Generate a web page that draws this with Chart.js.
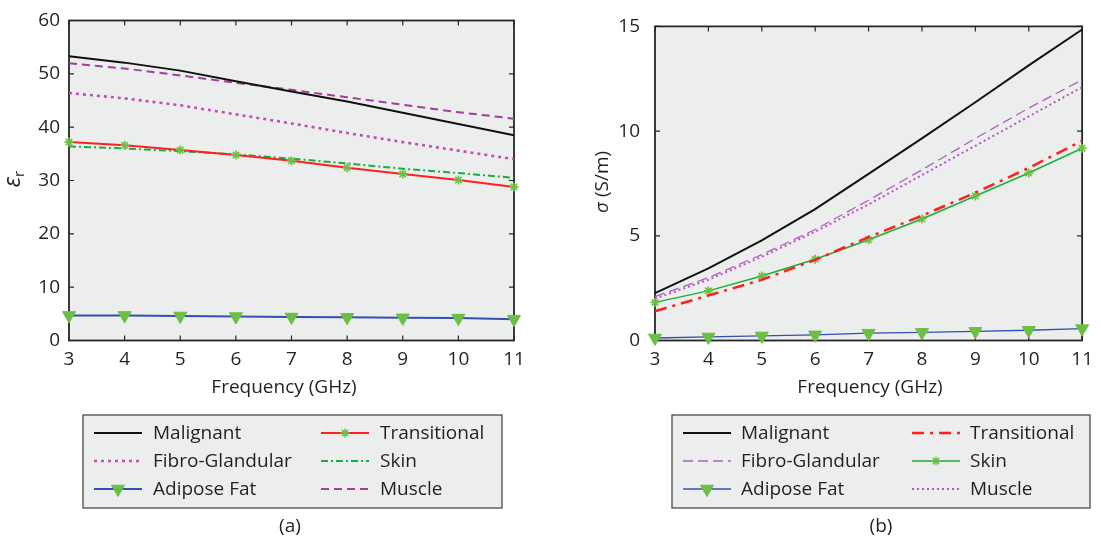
<!DOCTYPE html>
<html>
<head>
<meta charset="utf-8">
<title>Dielectric properties of breast tissues</title>
<script src="https://cdn.jsdelivr.net/npm/chart.js@4.4.1/dist/chart.umd.min.js"></script>
<style>
  html, body { margin: 0; padding: 0; background: #ffffff; }
  #wrap { position: relative; width: 1101px; height: 539px; overflow: hidden; }
  .panel { position: absolute; top: 0; }
  #pa { left: 0; }
  #pb { left: 550px; }
</style>
</head>
<body>
<div id="wrap">
  <div class="panel" id="pa"><canvas id="ca" width="550" height="539"></canvas></div>
  <div class="panel" id="pb"><canvas id="cb" width="551" height="539"></canvas></div>
</div>
<script>
// Frequency axis (GHz)
const freqGHz = [3, 4, 5, 6, 7, 8, 9, 10, 11];
const xTicks = [3, 4, 5, 6, 7, 8, 9, 10, 11];
const epsTicks = [0, 10, 20, 30, 40, 50, 60];
const sigmaTicks = [0, 5, 10, 15];

// (a) relative permittivity
const epsMalignant    = [53.3, 52.1, 50.6, 48.6, 46.7, 44.8, 42.7, 40.6, 38.5];
const epsFibro        = [46.4, 45.4, 44.1, 42.4, 40.7, 38.9, 37.2, 35.6, 34.0];
const epsAdipose      = [4.7, 4.7, 4.6, 4.5, 4.4, 4.35, 4.25, 4.2, 4.0];
const epsTransitional = [37.2, 36.6, 35.7, 34.8, 33.7, 32.4, 31.2, 30.1, 28.8];
const epsSkin         = [36.4, 36.0, 35.5, 34.9, 34.1, 33.2, 32.2, 31.4, 30.5];
const epsMuscle       = [52.0, 51.0, 49.7, 48.3, 47.0, 45.6, 44.2, 42.8, 41.6];

// (b) conductivity, S/m
const sigMalignant    = [2.26, 3.44, 4.78, 6.27, 7.96, 9.65, 11.38, 13.14, 14.85];
const sigFibro        = [2.1, 3.0, 4.1, 5.3, 6.7, 8.15, 9.65, 11.1, 12.45];
const sigAdipose      = [0.12, 0.17, 0.22, 0.27, 0.35, 0.39, 0.44, 0.49, 0.57];
const sigTransitional = [1.4, 2.15, 2.9, 3.85, 4.94, 5.96, 7.06, 8.24, 9.54];
const sigSkin         = [1.82, 2.37, 3.08, 3.88, 4.81, 5.8, 6.9, 8.0, 9.18];
const sigMuscle       = [2.0, 2.9, 4.0, 5.2, 6.5, 7.9, 9.3, 10.7, 12.1];

const FONT = "'Open Sans', 'Noto Sans', sans-serif";
const TEXT = '#231f20';
const MARKER_GREEN = '#6cbf45';

Chart.defaults.font.family = FONT;
Chart.defaults.font.size = 19;
Chart.defaults.color = TEXT;

function series(label, values, style) {
  return Object.assign({
    label: label,
    data: freqGHz.map((f, i) => ({ x: f, y: values[i] })),
    borderColor: '#000',
    borderWidth: 2,
    borderDash: [],
    tension: 0,
    fill: false,
    clip: false,
    pointRadius: 0,
    pointHoverRadius: 0,
    pointStyle: 'circle',
    pointRotation: 0,
    pointBorderWidth: 1,
    pointBackgroundColor: MARKER_GREEN,
    pointBorderColor: MARKER_GREEN
  }, style);
}

const starMarker = { pointStyle: 'star', pointRadius: 4.5, pointBorderWidth: 1.6 };
const triMarker = { pointStyle: 'triangle', pointRotation: 180, pointRadius: 7.5, pointBorderWidth: 1 };

// Plot background, box with inward ticks, legend box, axis titles and caption
const panelDecor = {
  id: 'panelDecor',
  beforeDraw(chart, args, o) {
    const { ctx, chartArea: a } = chart;
    ctx.save();
    ctx.fillStyle = o.plotBg;
    ctx.fillRect(a.left, a.top, a.right - a.left, a.bottom - a.top);
    ctx.restore();
  },
  beforeDatasetsDraw(chart, args, o) {
    const { ctx, chartArea: a, scales } = chart;
    const x = scales.x, y = scales.y, t = o.tickLen;
    ctx.save();
    ctx.strokeStyle = o.frameColor;
    ctx.setLineDash([]);
    ctx.lineWidth = 1.2;
    ctx.beginPath();
    x.ticks.forEach(tk => {
      const px = x.getPixelForValue(tk.value);
      ctx.moveTo(px, a.bottom); ctx.lineTo(px, a.bottom - t);
      ctx.moveTo(px, a.top); ctx.lineTo(px, a.top + t);
    });
    y.ticks.forEach(tk => {
      const py = y.getPixelForValue(tk.value);
      ctx.moveTo(a.left, py); ctx.lineTo(a.left + t, py);
      ctx.moveTo(a.right, py); ctx.lineTo(a.right - t, py);
    });
    ctx.stroke();
    ctx.lineWidth = o.frameWidth;
    ctx.strokeRect(a.left, a.top, a.right - a.left, a.bottom - a.top);
    ctx.restore();
  },
  afterDraw(chart, args, o) {
    const { ctx, chartArea: a } = chart;
    ctx.save();
    ctx.fillStyle = TEXT;

    // x-axis title
    ctx.font = '19px ' + FONT;
    ctx.textAlign = 'center';
    ctx.textBaseline = 'middle';
    ctx.fillText(o.xTitle, o.xTitleX, o.xTitleY);

    // y-axis title, rotated
    ctx.save();
    ctx.translate(o.yTitleX, o.yTitleY);
    ctx.rotate(-Math.PI / 2);
    ctx.textAlign = 'left';
    ctx.textBaseline = 'alphabetic';
    const parts = o.yTitleParts;
    let total = 0;
    parts.forEach(p => { ctx.font = p.font + ' ' + FONT; total += ctx.measureText(p.text).width; });
    let cx = -total / 2;
    parts.forEach(p => {
      ctx.font = p.font + ' ' + FONT;
      ctx.fillText(p.text, cx, p.dy);
      cx += ctx.measureText(p.text).width;
    });
    ctx.restore();

    // legend box
    const L = o.legend;
    ctx.fillStyle = o.legendBg;
    ctx.fillRect(L.left, L.top, L.width, L.height);
    ctx.strokeStyle = '#4a4a4a';
    ctx.lineWidth = 1.3;
    ctx.setLineDash([]);
    ctx.strokeRect(L.left, L.top, L.width, L.height);

    const byLabel = {};
    chart.data.datasets.forEach(ds => { byLabel[ds.label] = ds; });
    L.columns.forEach((col, ci) => {
      col.forEach((label, ri) => {
        const ds = byLabel[label];
        const x0 = L.left + L.colOffsets[ci] + L.lineStart;
        const yy = L.top + L.rowStart + ri * L.rowGap;
        ctx.save();
        ctx.strokeStyle = ds.borderColor;
        ctx.lineWidth = ds.borderWidth;
        ctx.setLineDash(ds.borderDash || []);
        ctx.beginPath();
        ctx.moveTo(x0, yy);
        ctx.lineTo(x0 + L.lineLen, yy);
        ctx.stroke();
        ctx.setLineDash([]);
        if (ds.pointRadius > 0) {
          ctx.fillStyle = ds.pointBackgroundColor;
          ctx.strokeStyle = ds.pointBorderColor;
          ctx.lineWidth = ds.pointBorderWidth;
          Chart.helpers.drawPoint(ctx, {
            pointStyle: ds.pointStyle,
            rotation: ds.pointRotation,
            radius: ds.pointRadius,
            borderWidth: ds.pointBorderWidth
          }, x0 + L.lineLen / 2, yy);
        }
        ctx.restore();
        ctx.fillStyle = TEXT;
        ctx.font = '19px ' + FONT;
        ctx.textAlign = 'left';
        ctx.textBaseline = 'middle';
        ctx.fillText(label, L.left + L.colOffsets[ci] + L.textStart, yy + 1);
      });
    });

    // panel caption
    ctx.fillStyle = TEXT;
    ctx.font = '19px ' + FONT;
    ctx.textAlign = 'center';
    ctx.textBaseline = 'middle';
    ctx.fillText(o.caption, o.captionX, o.captionY);
    ctx.restore();
  }
};

function makeChart(canvasId, datasets, cfg) {
  return new Chart(document.getElementById(canvasId), {
    type: 'line',
    data: { datasets: datasets },
    plugins: [panelDecor],
    options: {
      responsive: false,
      animation: false,
      devicePixelRatio: 1,
      events: [],
      layout: {
        autoPadding: false,
        padding: { left: 0, right: cfg.padRight, top: 20.5, bottom: 539 - 340.5 - 60 }
      },
      scales: {
        x: {
          type: 'linear',
          min: 3, max: 11,
          afterFit(scale) { scale.height = 60; },
          afterBuildTicks(scale) { scale.ticks = xTicks.map(v => ({ value: v })); },
          grid: { display: false, drawTicks: false },
          border: { display: false },
          ticks: { padding: 8, font: { size: 19 }, color: TEXT, autoSkip: false, maxRotation: 0 }
        },
        y: {
          type: 'linear',
          min: cfg.yMin, max: cfg.yMax,
          afterFit(scale) { scale.width = cfg.yWidth; },
          afterBuildTicks(scale) { scale.ticks = cfg.yTicks.map(v => ({ value: v })); },
          grid: { display: false, drawTicks: false },
          border: { display: false },
          ticks: { padding: cfg.yPad, font: { size: 19 }, color: TEXT }
        }
      },
      plugins: {
        legend: { display: false },
        tooltip: { enabled: false },
        panelDecor: Object.assign({
          plotBg: '#eceeed',
          legendBg: '#eceeed',
          frameColor: '#262626',
          frameWidth: 1.8,
          tickLen: 5
        }, cfg.decor)
      }
    }
  });
}

// (a) relative permittivity
makeChart('ca', [
  series('Malignant', epsMalignant, { borderColor: '#111111', borderWidth: 2 }),
  series('Fibro-Glandular', epsFibro, { borderColor: '#c04fb0', borderWidth: 2.6, borderDash: [3, 4] }),
  series('Adipose Fat', epsAdipose, Object.assign({ borderColor: '#3550b0', borderWidth: 2 }, triMarker)),
  series('Transitional', epsTransitional, Object.assign({ borderColor: '#ff1f1f', borderWidth: 2 }, starMarker)),
  series('Skin', epsSkin, { borderColor: '#1aae3c', borderWidth: 2, borderDash: [7, 3, 2, 3] }),
  series('Muscle', epsMuscle, { borderColor: '#a43ca2', borderWidth: 2, borderDash: [8, 5] })
], {
  padRight: 36, yWidth: 69, yPad: 9, yMin: 0, yMax: 60, yTicks: epsTicks,
  decor: {
    xTitle: 'Frequency (GHz)', xTitleX: 284, xTitleY: 388,
    yTitleX: 15, yTitleY: 179,
    yTitleParts: [ { text: 'ε', font: 'italic 23px', dy: 5 }, { text: 'r', font: '15px', dy: 9 } ],
    caption: '(a)', captionX: 290, captionY: 527,
    legend: {
      left: 83, top: 415, width: 419, height: 93,
      columns: [['Malignant', 'Fibro-Glandular', 'Adipose Fat'], ['Transitional', 'Skin', 'Muscle']],
      colOffsets: [0, 227], lineStart: 11, lineLen: 48, textStart: 70,
      rowStart: 18, rowGap: 28
    }
  }
});

// (b) conductivity
makeChart('cb', [
  series('Malignant', sigMalignant, { borderColor: '#111111', borderWidth: 2 }),
  series('Fibro-Glandular', sigFibro, { borderColor: '#b35cc2', borderWidth: 1.3, borderDash: [10, 5] }),
  series('Adipose Fat', sigAdipose, Object.assign({ borderColor: '#3550b0', borderWidth: 1.3 }, triMarker)),
  series('Transitional', sigTransitional, { borderColor: '#ff1f1f', borderWidth: 2.5, borderDash: [12, 6, 3, 6] }),
  series('Skin', sigSkin, Object.assign({ borderColor: '#1aae3c', borderWidth: 1.5 }, starMarker)),
  series('Muscle', sigMuscle, { borderColor: '#c050c0', borderWidth: 2, borderDash: [2, 3] })
], {
  padRight: 2, yWidth: 105, yPad: 15, yMin: 0, yMax: 15, yTicks: sigmaTicks,
  decor: {
    xTitle: 'Frequency (GHz)', xTitleX: 320, xTitleY: 388,
    yTitleX: 52, yTitleY: 182,
    yTitleParts: [ { text: 'σ', font: 'italic 19px', dy: 6 }, { text: ' (S/m)', font: '19px', dy: 6 } ],
    caption: '(b)', captionX: 331, captionY: 527,
    legend: {
      left: 122, top: 415, width: 418, height: 93,
      columns: [['Malignant', 'Fibro-Glandular', 'Adipose Fat'], ['Transitional', 'Skin', 'Muscle']],
      colOffsets: [0, 229], lineStart: 11, lineLen: 48, textStart: 69,
      rowStart: 18, rowGap: 28
    }
  }
});
</script>
</body>
</html>
